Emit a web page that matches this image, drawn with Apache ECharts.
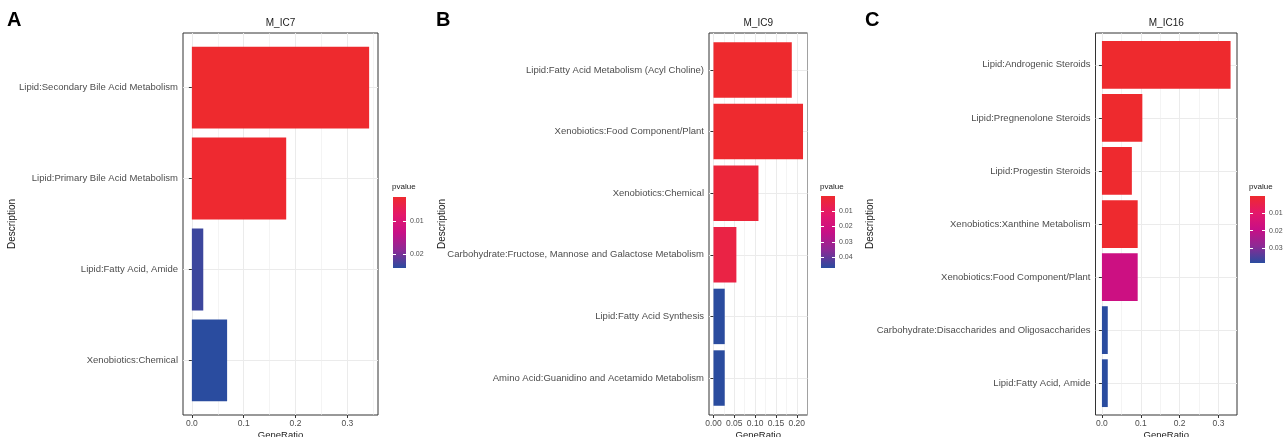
<!DOCTYPE html>
<html>
<head>
<meta charset="utf-8">
<script src="https://cdn.jsdelivr.net/npm/echarts@6/dist/echarts.min.js"></script>
<style>
  html, body { margin: 0; padding: 0; background: #fff; }
  #chart { width: 1283px; height: 437px; }
</style>
</head>
<body>
<div id="chart"></div>
<script>
// ---------------- data ----------------
const titles = ['M_IC7', 'M_IC9', 'M_IC16'];
const letters = ['A', 'B', 'C'];

const catsA = ['Lipid:Secondary Bile Acid Metabolism', 'Lipid:Primary Bile Acid Metabolism', 'Lipid:Fatty Acid, Amide', 'Xenobiotics:Chemical'];
const ratioA = [0.342, 0.182, 0.022, 0.068];
const pvalA = [0.0028, 0.0030, 0.0232, 0.0242];

const catsB = ['Lipid:Fatty Acid Metabolism (Acyl Choline)', 'Xenobiotics:Food Component/Plant', 'Xenobiotics:Chemical', 'Carbohydrate:Fructose, Mannose and Galactose Metabolism', 'Lipid:Fatty Acid Synthesis', 'Amino Acid:Guanidino and Acetamido Metabolism'];
const ratioB = [0.188, 0.215, 0.108, 0.055, 0.027, 0.027];
const pvalB = [0.0001, 0.0002, 0.0025, 0.0045, 0.0470, 0.0470];

const catsC = ['Lipid:Androgenic Steroids', 'Lipid:Pregnenolone Steroids', 'Lipid:Progestin Steroids', 'Xenobiotics:Xanthine Metabolism', 'Xenobiotics:Food Component/Plant', 'Carbohydrate:Disaccharides and Oligosaccharides', 'Lipid:Fatty Acid, Amide'];
const ratioC = [0.331, 0.104, 0.077, 0.092, 0.092, 0.015, 0.015];
const pvalC = [0.0001, 0.0001, 0.0002, 0.0003, 0.0180, 0.0386, 0.0386];

const xTicksA = [0, 0.1, 0.2, 0.3];
const xMinorA = [0.05, 0.15, 0.25, 0.35];
const xTicksB = [0, 0.05, 0.1, 0.15, 0.2];
const xMinorB = [0.025, 0.075, 0.125, 0.175, 0.225];
const xTicksC = [0, 0.1, 0.2, 0.3];
const xMinorC = [0.05, 0.15, 0.25, 0.35];

const legTicksA = [0.01, 0.02];
const legTicksB = [0.01, 0.02, 0.03, 0.04];
const legTicksC = [0.01, 0.02, 0.03];

const gradientColors = ['#EE2A2E', '#E4186A', '#C80F86', '#8C2A95', '#2A4C9F'];

// ---------------- layout ----------------
const FONT = "'Liberation Sans', Arial, Helvetica, sans-serif";
const panels = [
  { cats: catsA, ratio: ratioA, pval: pvalA, xTicks: xTicksA, xMinor: xMinorA, dec: 1, leg: legTicksA,
    frame: { left: 183, top: 33, width: 195, height: 382 }, nameGap: 166,
    cb: { left: 393, top: 197, width: 13, height: 71 }, letterX: 7 },
  { cats: catsB, ratio: ratioB, pval: pvalB, xTicks: xTicksB, xMinor: xMinorB, dec: 2, leg: legTicksB,
    frame: { left: 709, top: 33, width: 98.5, height: 382 }, nameGap: 262,
    cb: { left: 821, top: 196, width: 14, height: 72 }, letterX: 436 },
  { cats: catsC, ratio: ratioC, pval: pvalC, xTicks: xTicksC, xMinor: xMinorC, dec: 1, leg: legTicksC,
    frame: { left: 1095.5, top: 33, width: 141.5, height: 382 }, nameGap: 220,
    cb: { left: 1250, top: 196, width: 15, height: 67 }, letterX: 865 }
];

const option = {
  backgroundColor: '#ffffff',
  animation: false,
  textStyle: { fontFamily: FONT },
  title: [], grid: [], xAxis: [], yAxis: [], series: [], visualMap: []
};

panels.forEach((p, i) => {
  const n = p.cats.length;
  const xmax = Math.max(...p.ratio);
  const pmin = Math.min(...p.pval), pmax = Math.max(...p.pval);
  const gFrame = option.grid.length;
  const f = p.frame;

  option.title.push({ text: letters[i], left: p.letterX, top: 10, padding: 0,
    textStyle: { fontSize: 20, fontWeight: 'bold', color: '#000', fontFamily: FONT } });
  option.title.push({ text: titles[i], left: f.left + f.width / 2, top: 18, padding: 0, textAlign: 'center',
    textStyle: { fontSize: 10, fontWeight: 'normal', color: '#1A1A1A', fontFamily: FONT } });
  option.title.push({ text: 'pvalue', left: p.cb.left - 1, top: 183, padding: 0,
    textStyle: { fontSize: 8, fontWeight: 'normal', color: '#1A1A1A', fontFamily: FONT } });

  option.grid.push({ left: f.left, top: f.top, width: f.width, height: f.height, show: true,
    borderColor: '#333333', borderWidth: 1, backgroundColor: '#fff', containLabel: false, outerBoundsMode: 'none' });
  const stops = gradientColors.map((c, k) => ({ offset: k / (gradientColors.length - 1), color: c }));
  option.grid.push({ left: p.cb.left, top: p.cb.top, width: p.cb.width, height: p.cb.height, show: true,
    borderWidth: 0, containLabel: false, outerBoundsMode: 'none',
    backgroundColor: { type: 'linear', x: 0, y: 0, x2: 0, y2: 1, colorStops: stops } });

  const xMin = -0.05 * xmax, xMax = 1.05 * xmax;
  const xMajorIdx = option.xAxis.length;
  option.xAxis.push({
    type: 'value', gridIndex: gFrame, min: xMin, max: xMax, position: 'bottom',
    axisLine: { show: false },
    axisTick: { show: true, length: 3, customValues: p.xTicks, lineStyle: { color: '#333333', width: 1 } },
    axisLabel: { customValues: p.xTicks, fontSize: 8.5, color: '#4D4D4D', margin: 4, fontFamily: FONT,
      formatter: v => v.toFixed(p.dec) },
    splitLine: { show: true, lineStyle: { color: '#EBEBEB', width: 1 } },
    name: 'GeneRatio', nameLocation: 'middle', nameGap: 15, nameMoveOverlap: false,
    nameTextStyle: { fontSize: 9.5, color: '#1A1A1A', fontFamily: FONT }
  });
  option.xAxis.push({
    type: 'value', gridIndex: gFrame, min: xMin, max: xMax, position: 'top',
    axisLine: { show: false },
    axisTick: { show: false, customValues: p.xMinor },
    axisLabel: { show: false, customValues: p.xMinor },
    splitLine: { show: true, lineStyle: { color: '#EDEDED', width: 0.6 } }
  });
  option.xAxis.push({ type: 'value', gridIndex: gFrame + 1, show: false, min: 0, max: 1 });

  const positions = p.cats.map((c, k) => k + 1);
  const yMainIdx = option.yAxis.length;
  option.yAxis.push({
    type: 'value', gridIndex: gFrame, min: 0.4, max: n + 0.6, inverse: true, position: 'left',
    axisLine: { show: false },
    axisTick: { show: true, length: 3, customValues: positions, lineStyle: { color: '#333333', width: 1 } },
    axisLabel: { customValues: positions, fontSize: 9.5, color: '#4D4D4D', margin: 5, fontFamily: FONT,
      formatter: v => p.cats[Math.round(v) - 1] },
    splitLine: { show: true, lineStyle: { color: '#EBEBEB', width: 1 } },
    name: 'Description', nameLocation: 'middle', nameGap: p.nameGap, nameRotate: 90, nameMoveOverlap: false,
    nameTextStyle: { fontSize: 10, color: '#1A1A1A', fontFamily: FONT }
  });
  option.yAxis.push({
    type: 'value', gridIndex: gFrame + 1, min: pmin, max: pmax, inverse: true, position: 'right', z: 10,
    axisLine: { show: false },
    axisTick: { show: false, customValues: p.leg },
    axisLabel: { customValues: p.leg, fontSize: 7, color: '#4D4D4D', margin: 4, fontFamily: FONT,
      formatter: v => v.toFixed(2) },
    splitLine: { show: true, lineStyle: { color: '#ffffff', width: 1, type: [3, p.cb.width - 6] } }
  });

  const seriesIdx = option.series.length;
  option.series.push({
    type: 'custom', xAxisIndex: xMajorIdx, yAxisIndex: yMainIdx, clip: true,
    encode: { x: 0, y: 1 },
    data: p.ratio.map((r, k) => [r, positions[k], p.pval[k]]),
    renderItem: (params, api) => {
      const x = api.value(0), y = api.value(1);
      const a = api.coord([0, y - 0.45]);
      const b = api.coord([x, y + 0.45]);
      return {
        type: 'rect',
        shape: { x: Math.min(a[0], b[0]), y: Math.min(a[1], b[1]), width: Math.abs(b[0] - a[0]), height: Math.abs(b[1] - a[1]) },
        style: { fill: api.visual('color') }
      };
    }
  });
  option.visualMap.push({
    type: 'continuous', show: false, seriesIndex: seriesIdx, dimension: 2,
    min: pmin, max: pmax, inRange: { color: gradientColors }
  });
});

const chart = echarts.init(document.getElementById('chart'), null, { renderer: 'canvas' });
chart.setOption(option);
</script>
</body>
</html>
